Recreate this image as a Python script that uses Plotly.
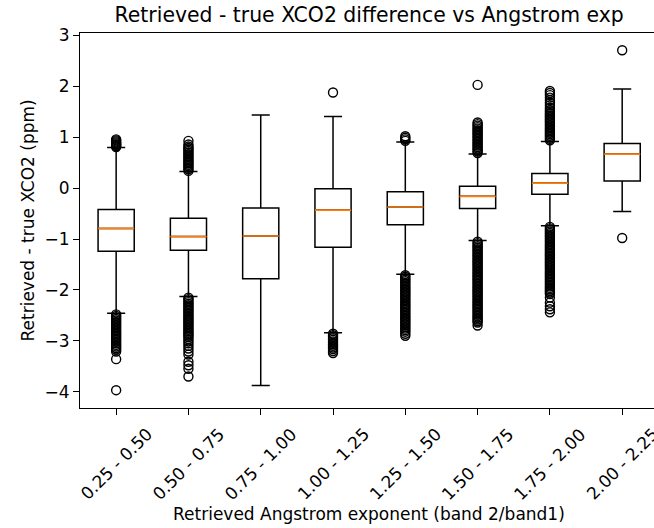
import plotly.graph_objects as go

# Angstrom exponent bins (band 2 / band 1)
bin_labels = ["0.25 - 0.50", "0.50 - 0.75", "0.75 - 1.00", "1.00 - 1.25",
              "1.25 - 1.50", "1.50 - 1.75", "1.75 - 2.00", "2.00 - 2.25"]
positions = [1, 2, 3, 4, 5, 6, 7, 8]

# Box statistics of retrieved - true XCO2 (ppm) per bin
q1 = [-1.24, -1.22, -1.78, -1.16, -0.72, -0.40, -0.12, 0.14]
median = [-0.79, -0.95, -0.94, -0.43, -0.37, -0.16, 0.10, 0.67]
q3 = [-0.42, -0.59, -0.39, -0.01, -0.07, 0.04, 0.29, 0.88]
whisker_low = [-2.46, -2.13, -3.88, -2.84, -1.69, -1.03, -0.74, -0.46]
whisker_high = [0.80, 0.33, 1.44, 1.41, 0.91, 0.67, 0.92, 1.95]

# Flier values per bin
fliers_025_050 = [0.81, 0.83, 0.85, 0.86, 0.88, 0.90, 0.92, 0.94, 0.96,
                  -2.48, -2.51, -2.54, -2.57, -2.60, -2.63, -2.66, -2.69, -2.72,
                  -2.75, -2.78, -2.81, -2.84, -2.87, -2.90, -2.93, -2.96, -2.99,
                  -3.02, -3.05, -3.08, -3.11, -3.14, -3.17, -3.21, -3.36, -3.97]
fliers_050_075 = [0.34, 0.37, 0.40, 0.43, 0.46, 0.49, 0.52, 0.55, 0.58, 0.61,
                  0.64, 0.67, 0.70, 0.73, 0.76, 0.79, 0.82, 0.86, 0.93,
                  -2.15, -2.18, -2.21, -2.24, -2.27, -2.30, -2.33, -2.36, -2.39,
                  -2.42, -2.45, -2.48, -2.51, -2.54, -2.57, -2.60, -2.63, -2.66,
                  -2.69, -2.72, -2.75, -2.78, -2.81, -2.84, -2.87, -2.90, -2.93,
                  -2.97, -3.01, -3.05, -3.10, -3.15, -3.21, -3.27, -3.41, -3.48,
                  -3.55, -3.70]
fliers_075_100 = []
fliers_100_125 = [1.88,
                  -2.86, -2.89, -2.92, -2.95, -2.98, -3.01, -3.04, -3.07, -3.10,
                  -3.13, -3.16, -3.20, -3.24]
fliers_125_150 = [0.93, 0.96, 0.99, 1.02,
                  -1.71, -1.74, -1.77, -1.80, -1.83, -1.86, -1.89, -1.92, -1.95,
                  -1.98, -2.01, -2.04, -2.07, -2.10, -2.13, -2.16, -2.19, -2.22,
                  -2.25, -2.28, -2.31, -2.34, -2.37, -2.40, -2.43, -2.46, -2.49,
                  -2.52, -2.55, -2.58, -2.61, -2.64, -2.67, -2.70, -2.73, -2.76,
                  -2.79, -2.82, -2.86, -2.90]
fliers_150_175 = [0.69, 0.72, 0.75, 0.78, 0.81, 0.84, 0.87, 0.90, 0.93, 0.96,
                  0.99, 1.02, 1.05, 1.08, 1.11, 1.14, 1.17, 1.20, 1.23, 1.26,
                  1.29, 2.03,
                  -1.05, -1.08, -1.11, -1.14, -1.17, -1.20, -1.23, -1.26, -1.29,
                  -1.32, -1.35, -1.38, -1.41, -1.44, -1.47, -1.50, -1.53, -1.56,
                  -1.59, -1.62, -1.65, -1.68, -1.71, -1.74, -1.77, -1.80, -1.83,
                  -1.86, -1.89, -1.92, -1.95, -1.98, -2.01, -2.04, -2.07, -2.10,
                  -2.13, -2.16, -2.19, -2.22, -2.25, -2.28, -2.31, -2.34, -2.37,
                  -2.40, -2.43, -2.46, -2.49, -2.52, -2.55, -2.58, -2.61, -2.64,
                  -2.70]
fliers_175_200 = [0.94, 0.97, 1.00, 1.03, 1.06, 1.09, 1.12, 1.15, 1.18, 1.21,
                  1.24, 1.27, 1.30, 1.33, 1.36, 1.39, 1.42, 1.45, 1.48, 1.51,
                  1.54, 1.58, 1.63, 1.68, 1.73, 1.78, 1.83, 1.87, 1.91,
                  -0.76, -0.79, -0.82, -0.85, -0.88, -0.91, -0.94, -0.97, -1.00,
                  -1.03, -1.06, -1.09, -1.12, -1.15, -1.18, -1.21, -1.24, -1.27,
                  -1.30, -1.33, -1.36, -1.39, -1.42, -1.45, -1.48, -1.51, -1.54,
                  -1.57, -1.60, -1.63, -1.66, -1.69, -1.72, -1.75, -1.78, -1.81,
                  -1.84, -1.87, -1.90, -1.93, -1.96, -1.99, -2.02, -2.05, -2.08,
                  -2.15, -2.25, -2.32, -2.38, -2.44]
fliers_200_225 = [2.71, -0.98]

fliers = [fliers_025_050, fliers_050_075, fliers_075_100, fliers_100_125,
          fliers_125_150, fliers_150_175, fliers_175_200, fliers_200_225]

y_ticks = [-4, -3, -2, -1, 0, 1, 2, 3]

BOX_WIDTH = 0.5
FONT = "DejaVu Sans"
LABEL_SIZE = 17
X_RANGE = [0.5, 8.44]

fig = go.Figure()

# Boxes and capped whiskers from precomputed statistics
fig.add_trace(go.Box(
    x=positions, q1=q1, median=median, q3=q3,
    lowerfence=whisker_low, upperfence=whisker_high,
    width=BOX_WIDTH, whiskerwidth=0.5, boxpoints=False,
    fillcolor="rgba(255,255,255,0)",
    line=dict(color="black", width=1.5),
    hoverinfo="skip", showlegend=False,
))

# Orange median lines across each box
mx, my = [], []
for p, m in zip(positions, median):
    mx += [p - BOX_WIDTH / 2, p + BOX_WIDTH / 2, None]
    my += [m, m, None]
fig.add_trace(go.Scatter(
    x=mx, y=my, mode="lines",
    line=dict(color="#ff7f0e", width=1.7),
    hoverinfo="skip", showlegend=False,
))

# Fliers as open circles
fx, fy = [], []
for p, vals in zip(positions, fliers):
    fx += [p] * len(vals)
    fy += vals
fig.add_trace(go.Scatter(
    x=fx, y=fy, mode="markers",
    marker=dict(symbol="circle-open", size=9, color="black",
                line=dict(width=1.4, color="black")),
    hoverinfo="skip", showlegend=False,
))

# Rotated bin labels centred under each tick
for p, lab in zip(positions, bin_labels):
    fig.add_annotation(
        x=p, y=0, xref="x", yref="paper", text=lab, showarrow=False,
        textangle=-45, xanchor="center", yanchor="top", yshift=-13,
        font=dict(family=FONT, size=LABEL_SIZE, color="black"),
    )

fig.add_annotation(
    x=4.5, y=0, xref="x", yref="paper",
    text="Retrieved Angstrom exponent (band 2/band1)",
    showarrow=False, xanchor="center", yanchor="middle", yshift=-106,
    font=dict(family=FONT, size=LABEL_SIZE, color="black"),
)
fig.add_annotation(
    x=0, y=0.5, xref="paper", yref="paper",
    text="Retrieved - true XCO2 (ppm)",
    showarrow=False, textangle=-90, xanchor="center", yanchor="middle",
    xshift=-53,
    font=dict(family=FONT, size=LABEL_SIZE, color="black"),
)

fig.update_layout(
    width=654, height=528,
    margin=dict(l=80, r=0, t=33, b=120),
    paper_bgcolor="white", plot_bgcolor="white",
    title=dict(text="Retrieved - true XCO2 difference vs Angstrom exp",
               x=(4.5 - X_RANGE[0]) / (X_RANGE[1] - X_RANGE[0]),
               xref="paper", xanchor="center",
               y=1 - 15 / 528, yref="container", yanchor="middle",
               font=dict(family=FONT, size=20.4, color="black")),
    font=dict(family=FONT, size=LABEL_SIZE, color="black"),
    showlegend=False,
)

fig.update_xaxes(
    range=X_RANGE, tickvals=positions, showticklabels=False,
    showline=True, linecolor="black", linewidth=1.2, mirror=True,
    ticks="outside", ticklen=6, tickwidth=1.2, tickcolor="black",
    showgrid=False, zeroline=False,
)
fig.update_yaxes(
    range=[-4.32, 3.05], tickvals=y_ticks,
    ticktext=[str(v).replace("-", "\u2212") for v in y_ticks],
    showline=True, linecolor="black", linewidth=1.2, mirror=False,
    ticks="outside", ticklen=6, tickwidth=1.2, tickcolor="black",
    showgrid=False, zeroline=False,
    tickfont=dict(family=FONT, size=LABEL_SIZE, color="black"),
)

fig.write_html("out.html")
